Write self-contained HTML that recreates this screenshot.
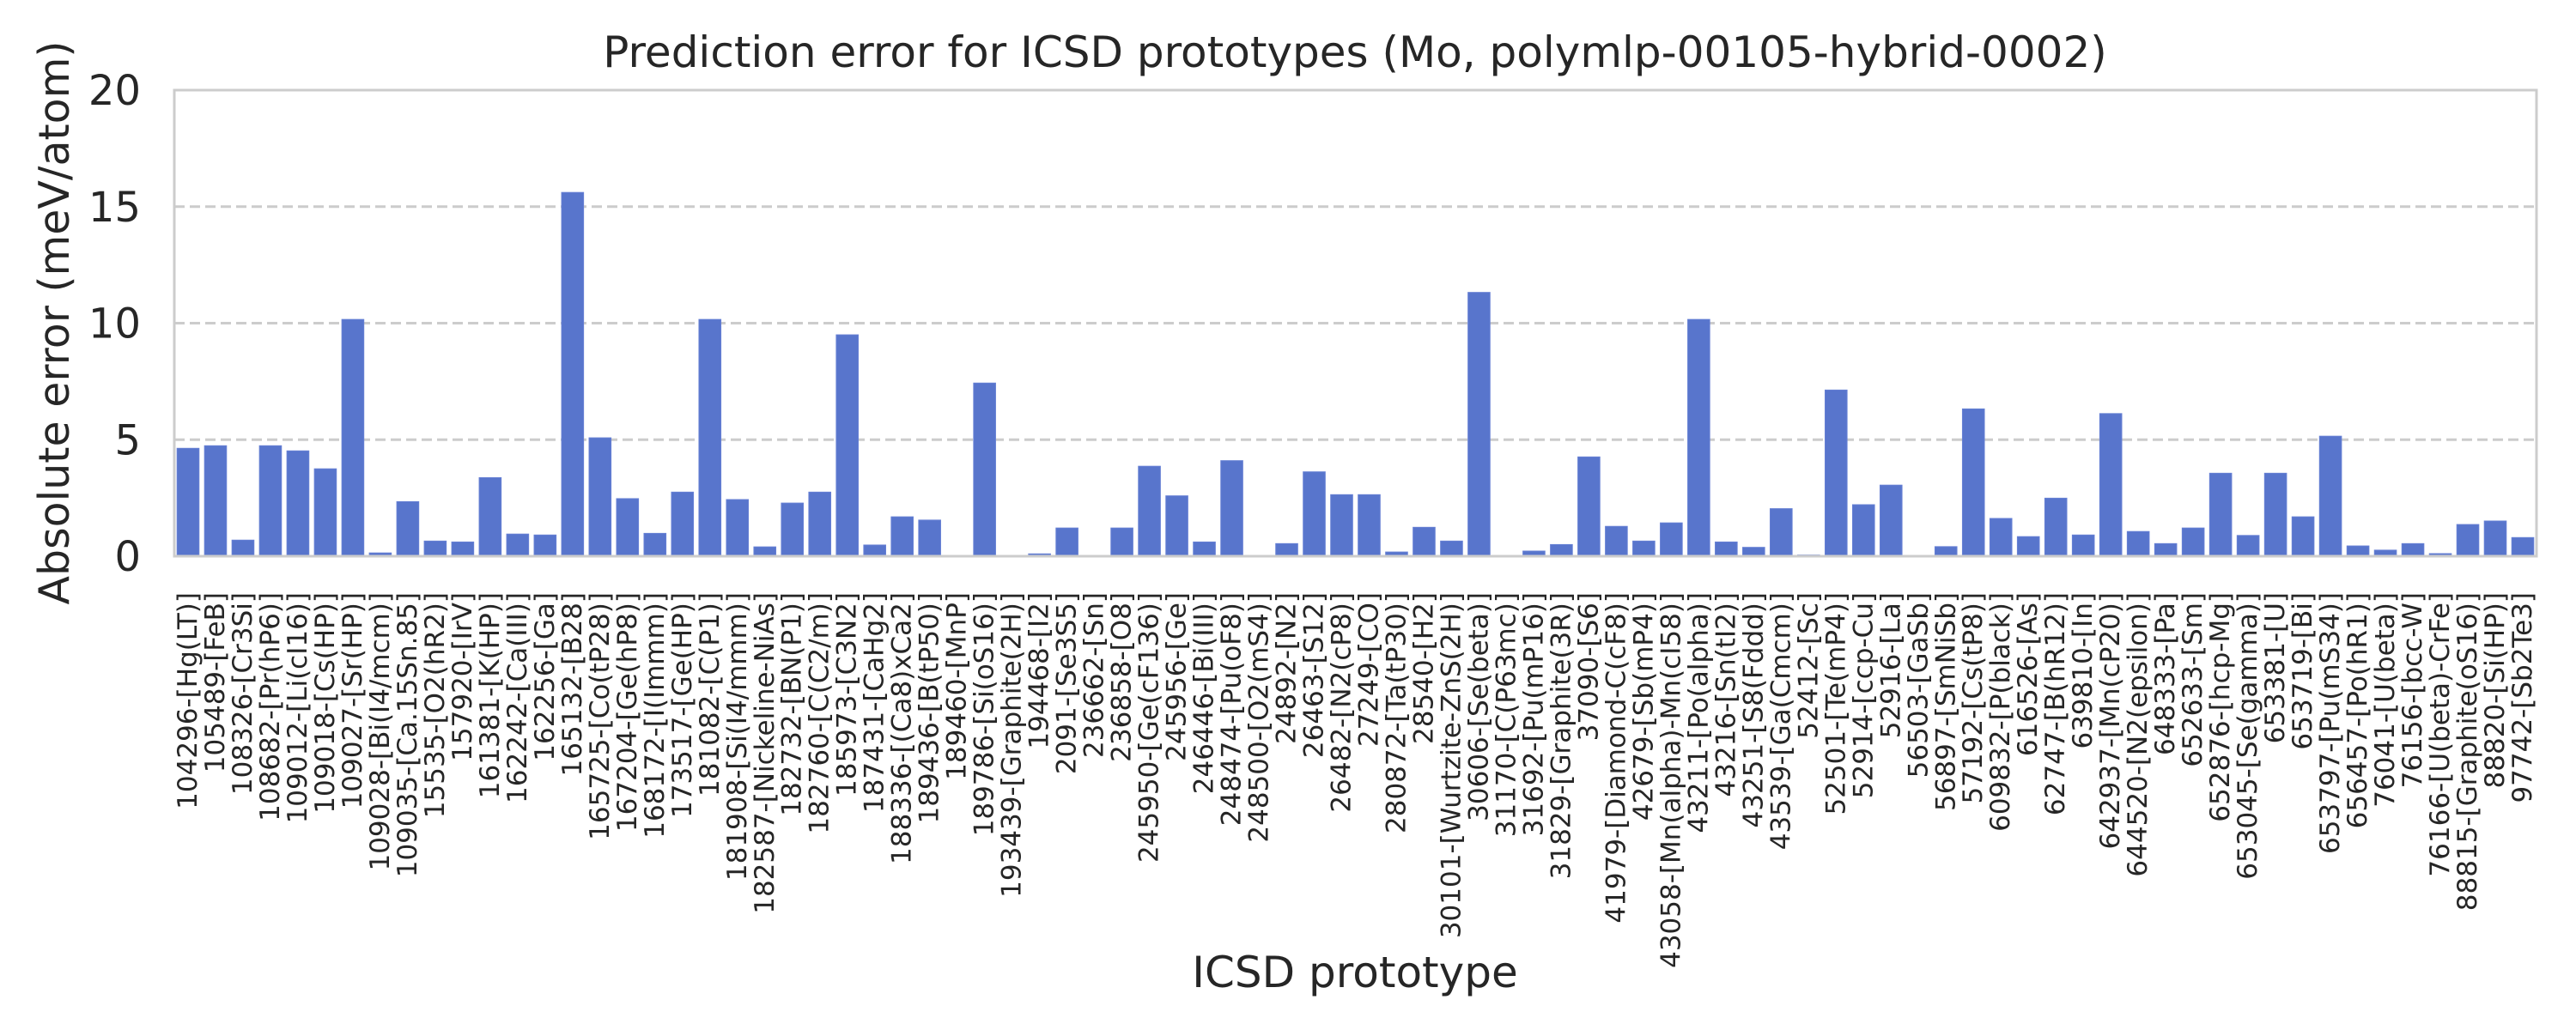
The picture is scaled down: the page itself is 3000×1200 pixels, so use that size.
<!DOCTYPE html>
<html><head><meta charset="utf-8"><style>
html,body{margin:0;padding:0;background:#fff;width:3000px;height:1200px;overflow:hidden}
svg{display:block;font-family:"DejaVu Sans","Liberation Sans",sans-serif;fill:#262626}
</style></head><body>
<svg id="chart" width="3000" height="1200" viewBox="0 0 3000 1200">
<text x="1578" y="78" font-size="50" text-anchor="middle">Prediction error for ICSD prototypes (Mo, polymlp-00105-hybrid-0002)</text>
<text transform="translate(80,376) rotate(-90)" font-size="49" text-anchor="middle">Absolute error (meV/atom)</text>
<text x="1578" y="1150" font-size="50" text-anchor="middle">ICSD prototype</text>
<g id="grid"></g><g id="bars"></g><g id="yticks"></g><g id="xticks"></g>
<rect x="203" y="105" width="2751" height="543" fill="none" stroke="#cccccc" stroke-width="3"/>
</svg>
<script>
const categories = ["104296-[Hg(LT)]","105489-[FeB]","108326-[Cr3Si]","108682-[Pr(hP6)]","109012-[Li(cI16)]","109018-[Cs(HP)]","109027-[Sr(HP)]","109028-[Bi(I4/mcm)]","109035-[Ca.15Sn.85]","15535-[O2(hR2)]","157920-[IrV]","161381-[K(HP)]","162242-[Ca(III)]","162256-[Ga]","165132-[B28]","165725-[Co(tP28)]","167204-[Ge(hP8)]","168172-[I(Immm)]","173517-[Ge(HP)]","181082-[C(P1)]","181908-[Si(I4/mmm)]","182587-[Nickeline-NiAs]","182732-[BN(P1)]","182760-[C(C2/m)]","185973-[C3N2]","187431-[CaHg2]","188336-[(Ca8)xCa2]","189436-[B(tP50)]","189460-[MnP]","189786-[Si(oS16)]","193439-[Graphite(2H)]","194468-[I2]","2091-[Se3S5]","236662-[Sn]","236858-[O8]","245950-[Ge(cF136)]","245956-[Ge]","246446-[Bi(III)]","248474-[Pu(oF8)]","248500-[O2(mS4)]","24892-[N2]","26463-[S12]","26482-[N2(cP8)]","27249-[CO]","280872-[Ta(tP30)]","28540-[H2]","30101-[Wurtzite-ZnS(2H)]","30606-[Se(beta)]","31170-[C(P63mc)]","31692-[Pu(mP16)]","31829-[Graphite(3R)]","37090-[S6]","41979-[Diamond-C(cF8)]","42679-[Sb(mP4)]","43058-[Mn(alpha)-Mn(cI58)]","43211-[Po(alpha)]","43216-[Sn(tI2)]","43251-[S8(Fddd)]","43539-[Ga(Cmcm)]","52412-[Sc]","52501-[Te(mP4)]","52914-[ccp-Cu]","52916-[La]","56503-[GaSb]","56897-[SmNiSb]","57192-[Cs(tP8)]","609832-[P(black)]","616526-[As]","62747-[B(hR12)]","639810-[In]","642937-[Mn(cP20)]","644520-[N2(epsilon)]","648333-[Pa]","652633-[Sm]","652876-[hcp-Mg]","653045-[Se(gamma)]","653381-[U]","653719-[Bi]","653797-[Pu(mS34)]","656457-[Po(hR1)]","76041-[U(beta)]","76156-[bcc-W]","76166-[U(beta)-CrFe]","88815-[Graphite(oS16)]","88820-[Si(HP)]","97742-[Sb2Te3]"];
const errors = [4.63,4.74,0.69,4.74,4.52,3.75,10.16,0.14,2.34,0.65,0.61,3.37,0.95,0.91,15.61,5.08,2.47,0.98,2.75,10.16,2.43,0.40,2.28,2.75,9.50,0.48,1.69,1.55,0.0,7.43,0.0,0.1,1.21,0.0,1.21,3.86,2.59,0.61,4.10,0.0,0.54,3.62,2.64,2.64,0.18,1.24,0.65,11.32,0.0,0.22,0.50,4.26,1.28,0.65,1.43,10.16,0.61,0.38,2.04,0.05,7.13,2.21,3.05,0.0,0.41,6.32,1.62,0.84,2.49,0.91,6.12,1.06,0.54,1.21,3.56,0.89,3.56,1.69,5.15,0.44,0.26,0.54,0.11,1.36,1.51,0.80];
const yTicks = [0,5,10,15,20];

const NS="http://www.w3.org/2000/svg";
const X0=203,X1=2954,Y0=648,Y1=105,YMAX=20;
const band=(X1-X0)/categories.length;
function xScale(i){return X0+band*(i+0.5);}
function yScale(v){return Y0-(v/YMAX)*(Y0-Y1);}
function mk(tag,attrs,parent){const e=document.createElementNS(NS,tag);for(const k in attrs)e.setAttribute(k,attrs[k]);parent.appendChild(e);return e;}
const grid=document.getElementById('grid'),bars=document.getElementById('bars'),yt=document.getElementById('yticks'),xt=document.getElementById('xticks');
yTicks.forEach(t=>{
  const y=yScale(t);
  if(t>0&&t<YMAX){
    const l=mk('line',{x1:X0,x2:X1,y1:y,y2:y,stroke:'#cccccc','stroke-width':3,'stroke-dasharray':'12 6'},grid);
    
    
  }
  const tx=mk('text',{x:164,y:y+17,'font-size':48,'text-anchor':'end'},yt);
  tx.textContent=String(t);
  
  
});
const bw=band*0.8;
errors.forEach((v,i)=>{
  const y=yScale(v);
  const r=mk('rect',{x:xScale(i)-bw/2,y:y,width:bw,height:Y0-y,fill:'#5875cc',stroke:'#6680d4','stroke-width':1},bars);
  
  
});
categories.forEach((c,i)=>{
  const cx=xScale(i);
  const t=mk('text',{transform:'translate('+(cx+10)+',690) rotate(-90)','font-size':31,'text-anchor':'end'},xt);
  t.textContent=c;
  
  
});
</script>
</body></html>
